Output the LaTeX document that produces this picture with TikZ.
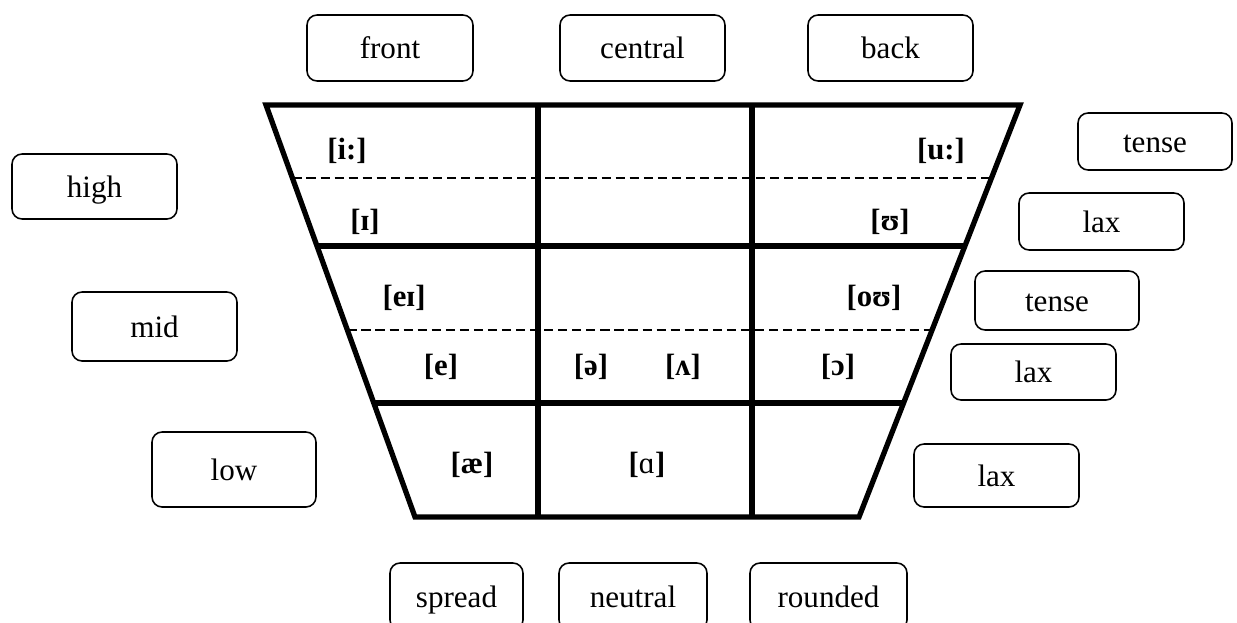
\documentclass[tikz,border=0pt]{standalone}
\usepackage{fontspec}
\setmainfont{Liberation Serif}
\usetikzlibrary{calc}

\begin{document}
\begin{tikzpicture}[x=0.02cm,y=-0.02cm]
		\tikzset{labelbox/.style = {draw,line width = 0.9pt,rounded corners = 0.2cm,font = \fontsize{17.7pt}{20pt}\selectfont,text height = 12pt,text depth = 0pt},
			vowel/.style = {font = \fontsize{17.5pt}{20pt}\selectfont\bfseries,inner sep = 0pt},
			gridline/.style = {line width = 3pt},
			halfline/.style = {line width = 0.9pt,dash pattern = on 5.2pt off 2.8pt}}
		\useasboundingbox (0,0) rectangle (1237,622);
		% corners of the chart
		\coordinate (tl) at (266,105);
		\coordinate (tr) at (1020,105);
		\coordinate (bl) at (415,517);
		\coordinate (br) at (859,517);
		\draw [gridline] (tl) -- (bl) -- (br) -- (tr) -- cycle;
		\draw [gridline] ($(tl)!0.3422!(bl)$) -- ($(tr)!0.3422!(br)$);
		\draw [gridline] ($(tl)!0.7233!(bl)$) -- ($(tr)!0.7233!(br)$);
		\foreach \x in {538,752}
			\draw [gridline] (\x,105) -- (\x,517);
		\draw [halfline] ($(tl)!0.1772!(bl)$) -- ($(tr)!0.1772!(br)$);
		\draw [halfline] ($(tl)!0.5461!(bl)$) -- ($(tr)!0.5461!(br)$);
		% vowels
		\node[vowel] (ii) at (347,151) {[i:]};
		\node[vowel] (uu) at (941,151) {[u:]};
		\node[vowel] (ih) at (365,222) {[ɪ]};
		\node[vowel] (uh) at (890,222) {[ʊ]};
		\node[vowel] (ei) at (404,298) {[eɪ]};
		\node[vowel] (ou) at (874,298) {[oʊ]};
		\node[vowel] (e) at (441,367) {[e]};
		\node[vowel] (schwa) at (591,367) {[ə]};
		\node[vowel] (wedge) at (683,367) {[ʌ]};
		\node[vowel] (oh) at (838,367) {[ɔ]};
		\node[vowel] (ae) at (472,465) {[æ]};
		\node[vowel] (ah) at (647,465) {[\textmd{ɑ}]};
		% labels round the chart
		\node[labelbox,minimum width = 3.32cm,minimum height = 1.32cm] (front) at (390,48) {front};
		\node[labelbox,minimum width = 3.30cm,minimum height = 1.32cm] (central) at (642.5,48) {central};
		\node[labelbox,minimum width = 3.30cm,minimum height = 1.32cm] (back) at (890.5,48) {back};
		\node[labelbox,minimum width = 3.30cm,minimum height = 1.30cm] (high) at (94.5,186.5) {high};
		\node[labelbox,minimum width = 3.30cm,minimum height = 1.38cm] (mid) at (154.5,326.5) {mid};
		\node[labelbox,minimum width = 3.28cm,minimum height = 1.50cm] (low) at (234,469.5) {low};
		\node[labelbox,minimum width = 3.08cm,minimum height = 1.14cm] (tensehigh) at (1155,141.5) {tense};
		\node[labelbox,minimum width = 3.30cm,minimum height = 1.14cm] (laxhigh) at (1101.5,221.5) {lax};
		\node[labelbox,minimum width = 3.28cm,minimum height = 1.18cm] (tensemid) at (1057,300.5) {tense};
		\node[labelbox,minimum width = 3.30cm,minimum height = 1.12cm] (laxmid) at (1033.5,372) {lax};
		\node[labelbox,minimum width = 3.30cm,minimum height = 1.26cm] (laxlow) at (996.5,475.5) {lax};
		\node[labelbox,minimum width = 2.66cm,minimum height = 1.34cm] (spread) at (456.5,596.5) {spread};
		\node[labelbox,minimum width = 2.96cm,minimum height = 1.34cm] (neutral) at (633,596.5) {neutral};
		\node[labelbox,minimum width = 3.14cm,minimum height = 1.34cm] (rounded) at (828.5,596.5) {rounded};
	\end{tikzpicture}
\end{document}
